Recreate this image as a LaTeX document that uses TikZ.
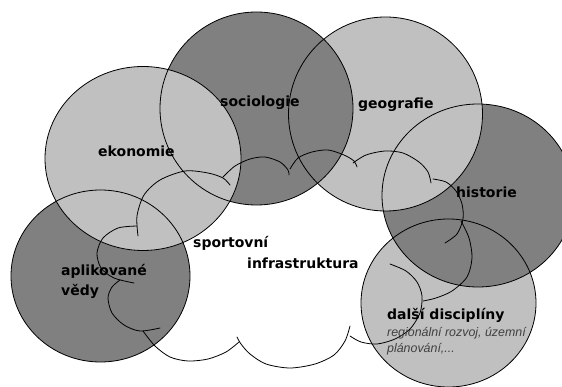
\documentclass[tikz,border=0pt]{standalone}
\usepackage{fontspec}
\newfontfamily\dvs{DejaVu Sans}
\newfontfamily\lis{Liberation Sans}
\definecolor{lightc}{HTML}{C0C0C0}
\definecolor{darkc}{HTML}{808080}
\begin{document}
\begin{tikzpicture}[x=1pt,y=-1pt,
  ring/.style={draw=black, line width=0.8pt},
  cloudline/.style={draw=black, line width=0.8pt, line cap=round},
  lab/.style={font=\dvs\bfseries\fontsize{14}{20}\selectfont, inner sep=0pt, anchor=west, text=black},
  note/.style={font=\lis\itshape\fontsize{12.4}{16}\selectfont, inner sep=0pt, anchor=west, text=black!75, align=left}]
\useasboundingbox (0,0) rectangle (562,387);
\clip (0,0) rectangle (562,387);
\fill[white] (0,0) rectangle (562,387);
% circle fills (stacking order)
\fill[darkc]  (100.5,276) ellipse [x radius=89.5pt, y radius=86pt];
\fill[lightc] (448.5,303) ellipse [x radius=87.5pt, y radius=84pt];
\fill[darkc]  (478,195.5) ellipse [x radius=96pt, y radius=91.5pt];
\fill[lightc] (385.5,114) ellipse [x radius=97pt, y radius=97pt];
\fill[darkc]  (256.5,108.5) ellipse [x radius=96.5pt, y radius=96.5pt];
\fill[lightc] (143,158.5) ellipse [x radius=98pt, y radius=92pt];
% circle outlines
\draw[ring] (100.5,276) ellipse [x radius=89.5pt, y radius=86pt];
\draw[ring] (448.5,303) ellipse [x radius=87.5pt, y radius=84pt];
\draw[ring] (478,195.5) ellipse [x radius=96pt, y radius=91.5pt];
\draw[ring] (385.5,114) ellipse [x radius=97pt, y radius=97pt];
\draw[ring] (256.5,108.5) ellipse [x radius=96.5pt, y radius=96.5pt];
\draw[ring] (143,158.5) ellipse [x radius=98pt, y radius=92pt];
% cloud outline
\draw[cloudline] plot[smooth] coordinates {(138,236) (137,216) (144,195) (160,180) (185,171) (208,173) (223,178) (230,185)};
\draw[cloudline] plot[smooth] coordinates {(223,177) (235,166) (250,159) (265,157) (280,162) (288,170) (289,175)};
\draw[cloudline] plot[smooth] coordinates {(290,169) (298,158) (312,152) (328,150) (344,155) (354,161) (357,167)};
\draw[cloudline] plot[smooth] coordinates {(353,163) (366,155) (385,151) (403,153) (419,162) (428,172) (431,183)};
\draw[cloudline] plot[smooth] coordinates {(433,179) (446,182) (456,191) (462,204) (463,219) (457,234) (445,243)};
\draw[cloudline] plot[smooth] coordinates {(461,221) (469,238) (472,258) (467,277) (452,291) (436,298) (423,301)};
\draw[cloudline] plot[smooth] coordinates {(390,264) (406,271) (417,282) (422,296) (420,313) (410,329) (395,339) (377,344) (361,342) (350,336)};
\draw[cloudline] plot[smooth] coordinates {(350,326) (345,341) (334,355) (315,364) (290,368) (266,364) (250,354) (241,344) (237,337)};
\draw[cloudline] plot[smooth] coordinates {(239,342) (226,352) (208,359) (188,361) (170,357) (155,346) (143,331)};
\draw[cloudline] plot[smooth] coordinates {(160,328) (140,331) (124,325) (112,313) (108,298) (112,287) (120,280)};
\draw[cloudline] plot[smooth] coordinates {(137,226) (118,228) (103,238) (97,253) (101,268) (114,278) (134,283)};
% labels
\node[lab] (eko) at (98,151) {ekonomie};
\node[lab] (soc) at (220,103) {sociologie};
\node[lab] (geo) at (358,105) {geografie};
\node[lab] (his) at (456,192) {historie};
\node[lab] (spo) at (193,243) {sportovní};
\node[lab] (inf) at (247,263) {infrastruktura};
\node[lab, align=left] (apl) at (61,281) {aplikované\\vědy};
\node[lab] (dal) at (387,315) {další disciplíny};
\node[note] (reg) at (387,341) {regionální rozvoj, územní\\plánování,...};
\end{tikzpicture}
\end{document}
